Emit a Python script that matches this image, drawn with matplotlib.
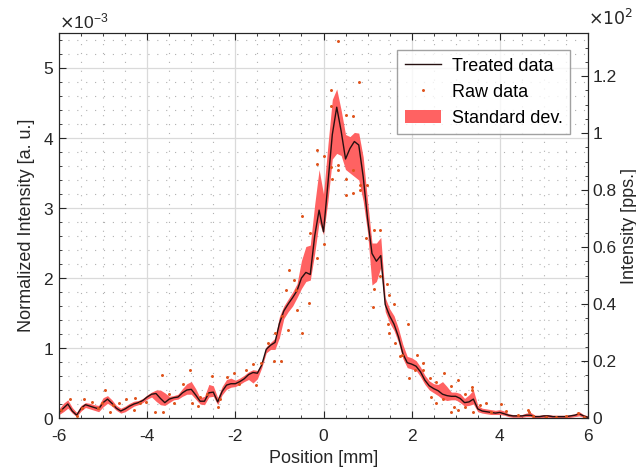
# %%
# Beam profile: treated data, raw points and std band
import numpy as np
import matplotlib.pyplot as plt
from matplotlib.ticker import MultipleLocator, ScalarFormatter, FuncFormatter

plt.rcParams['font.family'] = ['Liberation Sans', 'DejaVu Sans']
plt.rcParams['axes.unicode_minus'] = False

# %%
# Values (intensity in units of 1e-3)
scale = 1e-3
pos = np.round(np.arange(-60, 61) / 10, 1)   # -6.0 ... 6.0 mm, 0.1 step

treated = [0.08, 0.14, 0.20, 0.10, 0.04, 0.14, 0.19, 0.17, 0.15, 0.13,
           0.22, 0.27, 0.21, 0.14, 0.10, 0.13, 0.17, 0.20, 0.22, 0.25,
           0.30, 0.34, 0.35, 0.28, 0.22, 0.27, 0.29, 0.30, 0.36, 0.40,
           0.41, 0.33, 0.24, 0.24, 0.36, 0.37, 0.23, 0.38, 0.47, 0.49,
           0.49, 0.52, 0.56, 0.62, 0.65, 0.64, 0.76, 0.98, 1.04, 1.08,
           1.35, 1.53, 1.63, 1.72, 1.82, 2.00, 2.08, 2.05, 2.60, 2.97,
           2.66, 3.35, 4.05, 4.44, 4.10, 3.70, 3.85, 3.95, 3.90, 3.45,
           2.85, 2.35, 2.24, 2.32, 1.62, 1.46, 1.34, 1.16, 0.92, 0.79,
           0.77, 0.74, 0.66, 0.54, 0.46, 0.42, 0.39, 0.34, 0.32, 0.31,
           0.31, 0.28, 0.22, 0.23, 0.27, 0.13, 0.10, 0.09, 0.08, 0.07,
           0.08, 0.06, 0.04, 0.03, 0.03, 0.03, 0.04, 0.04, 0.02, 0.02,
           0.03, 0.03, 0.02, 0.02, 0.02, 0.02, 0.03, 0.04, 0.06, 0.03,
           0.01]

std_hi = [0.13, 0.21, 0.26, 0.15, 0.08, 0.18, 0.22, 0.21, 0.19, 0.18,
          0.29, 0.32, 0.26, 0.18, 0.14, 0.17, 0.21, 0.24, 0.25, 0.28,
          0.33, 0.37, 0.40, 0.40, 0.36, 0.31, 0.32, 0.34, 0.42, 0.49,
          0.52, 0.42, 0.29, 0.31, 0.48, 0.46, 0.29, 0.45, 0.55, 0.57,
          0.54, 0.57, 0.61, 0.66, 0.69, 0.68, 0.79, 1.02, 1.08, 1.14,
          1.45, 1.60, 1.70, 1.80, 1.92, 2.25, 2.45, 2.47, 3.05, 3.55,
          3.20, 3.90, 4.55, 4.70, 4.40, 4.05, 4.02, 4.08, 4.07, 3.73,
          3.10, 2.50, 2.50, 2.58, 1.72, 1.56, 1.46, 1.28, 1.05, 0.88,
          0.86, 0.82, 0.73, 0.61, 0.53, 0.49, 0.48, 0.52, 0.45, 0.37,
          0.37, 0.35, 0.28, 0.33, 0.40, 0.18, 0.14, 0.13, 0.12, 0.11,
          0.12, 0.10, 0.06, 0.05, 0.05, 0.05, 0.07, 0.08, 0.04, 0.04,
          0.05, 0.05, 0.04, 0.04, 0.04, 0.04, 0.05, 0.06, 0.09, 0.05,
          0.03]

std_lo = [0.05, 0.09, 0.14, 0.07, 0.02, 0.10, 0.15, 0.13, 0.11, 0.09,
          0.16, 0.21, 0.17, 0.11, 0.07, 0.09, 0.13, 0.17, 0.19, 0.22,
          0.27, 0.30, 0.24, 0.19, 0.18, 0.22, 0.26, 0.27, 0.31, 0.34,
          0.34, 0.27, 0.20, 0.19, 0.30, 0.31, 0.19, 0.33, 0.41, 0.44,
          0.45, 0.48, 0.52, 0.55, 0.50, 0.56, 0.72, 0.93, 0.98, 0.98,
          1.15, 1.42, 1.52, 1.60, 1.72, 1.85, 1.95, 1.97, 2.35, 2.80,
          2.62, 3.10, 3.70, 3.78, 3.75, 3.55, 3.50, 3.45, 3.40, 3.10,
          2.65, 1.90, 1.95, 2.15, 1.52, 1.36, 1.25, 1.08, 0.85, 0.72,
          0.70, 0.68, 0.59, 0.48, 0.40, 0.36, 0.32, 0.27, 0.25, 0.26,
          0.26, 0.22, 0.17, 0.18, 0.20, 0.09, 0.07, 0.06, 0.05, 0.05,
          0.05, 0.04, 0.02, 0.01, 0.01, 0.01, 0.02, 0.02, 0.00, 0.00,
          0.01, 0.01, 0.00, 0.00, 0.00, 0.00, 0.01, 0.02, 0.03, 0.01,
          0.00]

raw_x = [-5.95, -5.75, -5.60, -5.49, -5.43, -5.26, -5.11, -5.03, -4.95, -4.84,
         -4.77, -4.65, -4.47, -4.31, -4.28, -4.17, -4.02, -3.82, -3.67, -3.64,
         -3.50, -3.40, -3.18, -3.03, -2.99, -2.84, -2.80, -2.65, -2.54, -2.39,
         -2.35, -2.20, -2.04, -1.91, -1.76, -1.61, -1.53, -1.41, -1.27, -1.12,
         -1.10, -0.97, -0.95, -0.84, -0.80, -0.78, -0.66, -0.63, -0.61, -0.48,
         -0.48, -0.33, -0.31, -0.14, -0.14, -0.14, 0.01, 0.02, 0.18, 0.18,
         0.18, 0.19, 0.33, 0.34, 0.34, 0.51, 0.51, 0.51, 0.66, 0.66,
         0.66, 0.81, 0.83, 0.83, 0.98, 0.97, 1.14, 1.29, 1.14, 1.29,
         1.13, 1.45, 1.49, 1.60, 1.47, 1.49, 1.62, 1.73, 1.77, 1.92,
         1.94, 2.07, 2.11, 2.26, 2.26, 2.42, 2.45, 2.56, 2.56, 2.71,
         2.74, 2.90, 2.90, 2.97, 3.05, 3.05, 3.20, 3.20, 3.36, 3.38,
         3.39, 3.54, 3.69, 3.81, 4.02, 4.15, 4.41, 4.64, 4.67, 4.75,
         5.05, 5.28, 5.50, 5.77, 5.92]
raw_y = [0.12, 0.27, 0.03, 0.15, 0.27, 0.23, 0.14, 0.21, 0.40, 0.09,
         0.19, 0.21, 0.27, 0.11, 0.28, 0.21, 0.23, 0.08, 0.61, 0.08,
         0.34, 0.21, 0.48, 0.69, 0.22, 0.17, 0.30, 0.35, 0.60, 0.16,
         0.27, 0.58, 0.65, 0.49, 0.69, 0.77, 0.47, 0.78, 1.07, 0.81,
         1.22, 0.81, 1.46, 1.83, 1.26, 2.11, 1.97, 1.83, 1.54, 1.21,
         2.89, 1.64, 2.65, 2.28, 3.83, 3.63, 3.75, 2.49, 4.69, 4.45,
         3.59, 3.42, 5.38, 3.61, 3.54, 4.33, 3.42, 3.18, 4.31, 3.54,
         3.21, 4.80, 3.33, 3.26, 3.33, 2.57, 2.69, 2.69, 1.85, 2.03,
         1.59, 1.91, 1.76, 1.63, 1.34, 1.22, 1.07, 0.88, 0.90, 1.34,
         0.57, 0.69, 0.90, 0.78, 0.69, 0.57, 0.30, 0.22, 0.52, 0.27,
         0.65, 0.46, 0.08, 0.16, 0.54, 0.11, 0.35, 0.16, 0.44, 0.40,
         0.08, 0.19, 0.21, 0.09, 0.20, 0.10, 0.04, 0.11, 0.08, 0.03,
         0.02, 0.02, 0.03, 0.07, 0.02]

# factor between normalized axis (left) and pps axis (right)
pps_per_norm = 135.1 / 5.5e-3

# %%
fig = plt.figure(figsize=(6.36, 4.70), dpi=100)
ax = fig.add_axes([0.0928, 0.1106, 0.8317, 0.8192])
axc = '#262626'

ax.fill_between(pos, np.array(std_lo) * scale, np.array(std_hi) * scale,
                color='#ff6262', lw=0, zorder=2, label='Standard dev.')
ax.plot(pos, np.array(treated) * scale, color='#261010', lw=1.0, zorder=3,
        label='Treated data')
ax.plot(raw_x, np.array(raw_y) * scale, '.', color='#e0531c', ms=2.3,
        zorder=4, label='Raw data')

ax.set_xlim(-6, 6)
ax.set_ylim(0, 5.5e-3)
ax.xaxis.set_major_locator(MultipleLocator(2))
ax.xaxis.set_minor_locator(MultipleLocator(0.5))
ax.yaxis.set_major_locator(MultipleLocator(1e-3))
ax.yaxis.set_minor_locator(MultipleLocator(0.2e-3))
fmt = ScalarFormatter(useMathText=True)
fmt.set_powerlimits((-1, 1))
ax.yaxis.set_major_formatter(fmt)

ax.grid(which='major', color='#dadada', lw=0.9, zorder=0)
ax.grid(which='minor', color='#b0b0b0', lw=0.8, ls=(0, (1, 7)), zorder=0)
ax.set_axisbelow(True)

ax.tick_params(which='both', direction='in', top=True, right=False,
               colors=axc, labelsize=12.5)
ax.tick_params(which='major', length=5)
ax.tick_params(which='minor', length=2.5)
ax.tick_params(axis='x', which='major', pad=8)
for s in ax.spines.values():
    s.set_color(axc)
    s.set_linewidth(0.8)

ax.set_xlabel('Position [mm]', fontsize=13, color=axc, labelpad=4)
ax.set_ylabel('Normalized Intensity [a. u.]', fontsize=13, color=axc,
              labelpad=6)
ax.yaxis.get_offset_text().set_fontsize(12.5)
ax.yaxis.get_offset_text().set_color(axc)

# right axis in pps, labels shown as multiples of 10^2
ax2 = ax.twinx()
ax2.set_ylim(0, 5.5e-3 * pps_per_norm)
ax2.yaxis.set_major_locator(MultipleLocator(20))
ax2.yaxis.set_minor_locator(MultipleLocator(5))
ax2.yaxis.set_major_formatter(FuncFormatter(lambda v, p: '%g' % round(v / 100, 2)))
ax2.tick_params(which='both', direction='in', colors=axc, labelsize=12.5)
ax2.tick_params(which='major', length=5)
ax2.tick_params(which='minor', length=2.5)
for s in ax2.spines.values():
    s.set_color(axc)
    s.set_linewidth(0.8)
ax2.set_ylabel('Intensity [pps.]', fontsize=13, color=axc, labelpad=3)
ax2.text(1.0, 1.012, r'$\times10^{2}$', transform=ax2.transAxes,
         ha='left', va='bottom', fontsize=12.5, color=axc)

leg = ax.legend(handles=[ax.lines[0], ax.lines[1], ax.collections[0]],
                loc='upper right', bbox_to_anchor=(0.966, 0.956),
                borderaxespad=0, fontsize=13, frameon=True, fancybox=False,
                markerscale=1.0, handlelength=2.0, borderpad=0.42,
                labelspacing=0.5, handletextpad=0.6)
leg.get_frame().set_edgecolor('#8a8a8a')
leg.get_frame().set_linewidth(1.0)
leg.set_zorder(10)

fig.savefig('out.png', dpi=100)
